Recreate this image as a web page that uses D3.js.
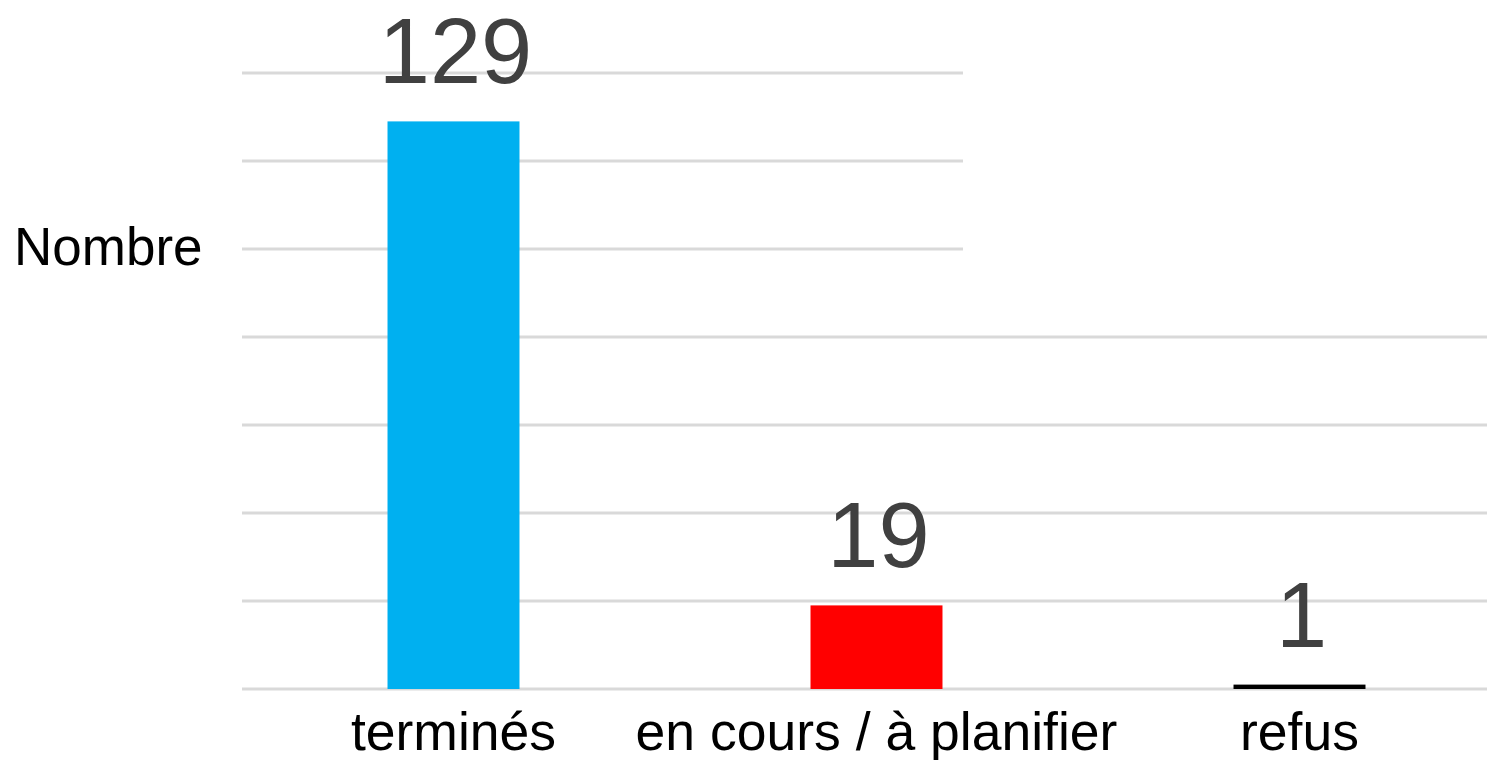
<!DOCTYPE html>
<html>
<head>
<meta charset="utf-8">
<script src="https://cdn.jsdelivr.net/npm/d3@7"></script>
<style>
  body { margin: 0; background: #fff; }
  svg { display: block; font-family: "Liberation Sans", Arial, sans-serif; }
</style>
</head>
<body>
<svg id="chart" width="1487" height="760"></svg>
<script>
// chart data
const categories = ["terminés", "en cours / à planifier", "refus"];
const values = [129, 19, 1];
const colors = ["#00b0f0", "#ff0000", "#000000"];
const yTicks = [0, 20, 40, 60, 80, 100, 120, 140];

const svg = d3.select("#chart");

const x = d3.scaleBand()
    .domain(categories)
    .range([242, 1511])
    .paddingInner(0.688)
    .paddingOuter(0.344);

const y = d3.scaleLinear()
    .domain([0, 140])
    .range([689, 73]);

// gridlines
svg.append("g")
    .selectAll("line")
    .data(yTicks)
    .join("line")
    .attr("x1", 242)
    .attr("x2", 1487)
    .attr("y1", d => y(d))
    .attr("y2", d => y(d))
    .attr("stroke", "#d9d9d9")
    .attr("stroke-width", 3);

// empty legend area covering the top right of the grid
svg.append("rect")
    .attr("x", 963)
    .attr("y", 55)
    .attr("width", 530)
    .attr("height", 210)
    .attr("fill", "#fff");

// bars
svg.append("g")
    .selectAll("rect")
    .data(values)
    .join("rect")
    .attr("x", (d, i) => x(categories[i]))
    .attr("y", d => y(d))
    .attr("width", x.bandwidth())
    .attr("height", d => y(0) - y(d))
    .attr("fill", (d, i) => colors[i]);

// value labels
svg.append("g")
    .selectAll("text")
    .data(values)
    .join("text")
    .attr("x", (d, i) => x(categories[i]) + x.bandwidth() / 2 + 2)
    .attr("y", d => y(d) - 38)
    .attr("text-anchor", "middle")
    .attr("font-size", 92)
    .attr("fill", "#404040")
    .text(d => d);

// category labels
svg.append("g")
    .selectAll("text")
    .data(categories)
    .join("text")
    .attr("x", d => x(d) + x.bandwidth() / 2)
    .attr("y", 750)
    .attr("text-anchor", "middle")
    .attr("font-size", 53.5)
    .attr("fill", "#000")
    .text(d => d);

// axis title
svg.append("text")
    .attr("x", 14)
    .attr("y", 265)
    .attr("font-size", 53)
    .attr("fill", "#000")
    .text("Nombre");
</script>
</body>
</html>
